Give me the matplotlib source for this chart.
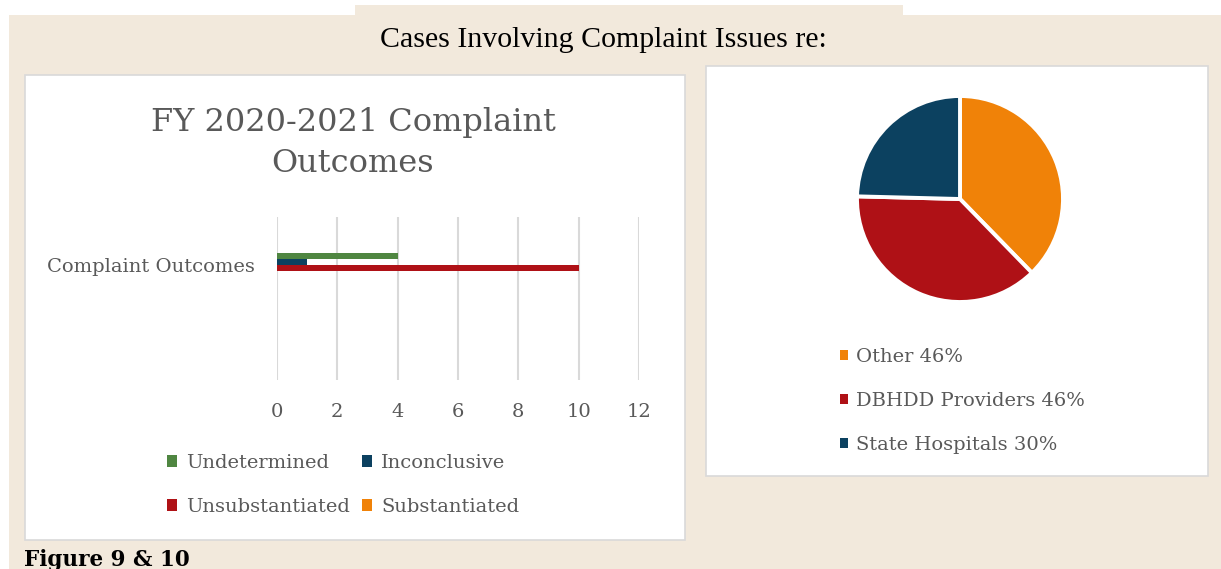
import matplotlib
matplotlib.use("Agg")
import matplotlib.pyplot as plt
from matplotlib.patches import Rectangle

W, H = 1221, 569

# ---- data ----
bar_category = "Complaint Outcomes"
bar_series = ["Undetermined", "Inconclusive", "Unsubstantiated", "Substantiated"]
bar_values = [4, 1, 10, 0]
bar_colors = ["#4F8641", "#0C4160", "#AF1116", "#F08208"]
x_ticks = [0, 2, 4, 6, 8, 10, 12]

pie_labels = ["Other", "DBHDD Providers", "State Hospitals"]
pie_values = [46, 46, 30]
pie_colors = ["#F08208", "#AF1116", "#0C4160"]

main_title = "Cases Involving Complaint Issues re:"
bar_title = "FY 2020-2021 Complaint\nOutcomes"
caption = "Figure 9 & 10"

TXT = "#595959"
SERIF = "DejaVu Serif"


def rect(x0, y0, x1, y1):
    return [x0 / W, 1 - y1 / H, (x1 - x0) / W, (y1 - y0) / H]


fig = plt.figure(figsize=(W / 100, H / 100), dpi=100)
fig.patch.set_facecolor("white")

BEIGE = "#F2E9DC"
fig.patches.append(Rectangle((9 / W, 0), 1 - 9 / W, 1 - 15 / H, transform=fig.transFigure,
                             facecolor=BEIGE, edgecolor="none", zorder=-3))
fig.patches.append(Rectangle((355 / W, 1 - 16 / H), (903 - 355) / W, 11 / H, transform=fig.transFigure,
                             facecolor=BEIGE, edgecolor="none", zorder=-3))
# white panels
for (x0, y0, x1, y1) in [(25, 75, 685, 540), (706, 66, 1208, 476)]:
    fig.patches.append(Rectangle((x0 / W, 1 - y1 / H), (x1 - x0) / W, (y1 - y0) / H,
                                 transform=fig.transFigure, facecolor="white",
                                 edgecolor="#D9D9D9", linewidth=1.2, zorder=-2))

fig.text(603 / W, 1 - 40 / H, main_title, ha="center", va="center",
         fontsize=21.5, family="Liberation Serif", color="black")
fig.text(24 / W, 1 - 549 / H, caption, ha="left", va="top",
         fontsize=15.5, family=SERIF, fontweight="bold", color="black")
fig.text(353 / W, 1 - 143 / H, bar_title, ha="center", va="center",
         fontsize=23, family=SERIF, color=TXT, linespacing=1.42)

# ---- bar chart ----
ax = fig.add_axes(rect(277, 217, 639, 380))
ax.set_facecolor("none")
bh = 0.062
offsets = [1.5 * bh, 0.5 * bh, -0.5 * bh, -1.5 * bh]
handles = []
for name, val, col, off in zip(bar_series, bar_values, bar_colors, offsets):
    h = ax.barh(0 + off, val, height=bh, color=col, label=name, zorder=3)
    handles.append(h)
ax.set_xlim(0, 12)
ax.set_ylim(-1.2, 0.5)
ax.set_xticks(x_ticks)
ax.set_xticklabels([str(t) for t in x_ticks], family=SERIF, fontsize=14, color=TXT)
ax.set_yticks([0])
ax.set_yticklabels([bar_category], family=SERIF, fontsize=14, color=TXT)
ax.tick_params(axis="both", length=0)
ax.tick_params(axis="x", pad=16.5)
ax.tick_params(axis="y", pad=16)
ax.grid(axis="x", color="#D9D9D9", linewidth=1.5, zorder=0)
for s in ax.spines.values():
    s.set_visible(False)

# legend filled row-wise (matplotlib fills column-wise)
order = [0, 2, 1, 3]
leg = fig.legend(handles=[handles[i] for i in order], labels=[bar_series[i] for i in order],
                 ncol=2, loc="upper left",
                 bbox_to_anchor=(157 / W, 1 - 444 / H), frameon=False,
                 prop={"family": SERIF, "size": 14}, handlelength=0.55, handleheight=0.55,
                 handletextpad=0.45, columnspacing=0.6, labelspacing=1.33, borderpad=0)
for t in leg.get_texts():
    t.set_color(TXT)

# ---- pie chart ----
ax2 = fig.add_axes(rect(857, 96, 1063, 302))
wedges, _ = ax2.pie(pie_values, colors=pie_colors, startangle=90, counterclock=False,
                    wedgeprops={"edgecolor": "white", "linewidth": 2.8})
ax2.set_aspect("equal")
ax2.set_xlim(-1.0, 1.0)
ax2.set_ylim(-1.0, 1.0)
pie_leg_labels = [f"{l} {v}%" for l, v in zip(pie_labels, pie_values)]
leg2 = fig.legend(handles=wedges, labels=pie_leg_labels, ncol=1, loc="upper left",
                  bbox_to_anchor=(830 / W, 1 - 338 / H), frameon=False,
                  prop={"family": SERIF, "size": 14}, handlelength=0.4, handleheight=0.4,
                  handletextpad=0.45, labelspacing=1.35, borderpad=0)
for t in leg2.get_texts():
    t.set_color(TXT)
for hd in leg2.legend_handles:
    hd.set_linewidth(0)
    hd.set_edgecolor("none")

fig.savefig("out.png", dpi=100, facecolor=fig.get_facecolor())
